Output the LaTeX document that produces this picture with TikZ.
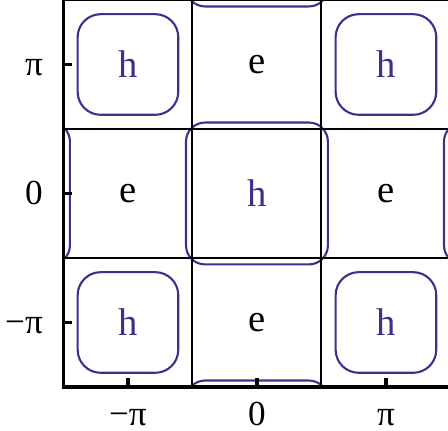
\documentclass[tikz,border=0pt]{standalone}
\usepackage{fontspec}
\setmainfont{Liberation Serif}
\definecolor{fermi}{RGB}{68,44,140}

\begin{document}
\begin{tikzpicture}[x=1.29cm,y=1.29cm,
  pocket/.style={draw=fermi,line width=0.6pt},
  gridline/.style={line width=0.55pt},
  axisline/.style={line width=0.95pt},
  ticklabel/.style={font=\fontsize{10}{12}\selectfont,inner sep=0pt},
  celllabel/.style={font=\fontsize{11}{13}\selectfont}]
\useasboundingbox (-1.992,-1.841) rectangle (1.481,1.5);
\begin{scope}
\clip (-1.5,-1.5) rectangle (1.5,1.5);
\foreach \cx/\cy in {0/0,2/0,-2/0,0/2,0/-2} {\draw[pocket,rounded corners=1.9mm] (\cx-0.55,\cy-0.55) rectangle (\cx+0.55,\cy+0.55);}
\foreach \cx/\cy in {1/1,-1/1,1/-1,-1/-1} {\draw[pocket,rounded corners=2.3mm] (\cx-0.39,\cy-0.39) rectangle (\cx+0.39,\cy+0.39);}
\end{scope}
\foreach \g in {-0.5,0.5} {\draw[gridline] (\g,-1.5) -- (\g,1.5); \draw[gridline] (-1.5,\g) -- (1.5,\g);}
\draw[gridline] (-1.5,1.5) -- (1.5,1.5);
\draw[axisline] (-1.5,1.5) -- (-1.5,-1.5) -- (1.5,-1.5);
\foreach \t/\lab [count=\i] in {-1/−π,0/0,1/π} {
  \draw[axisline] (\t,-1.5) -- (\t,-1.43);
  \node[ticklabel,anchor=base] (xl\i) at (\t,-1.795) {\lab};
  \draw[axisline] (-1.5,\t) -- (-1.43,\t);
  \node[ticklabel,anchor=base east] (yl\i) at (-1.655,\t-0.085) {\lab};
}
\foreach \cx/\cy [count=\i] in {0/0,1/1,-1/1,1/-1,-1/-1} {\node[celllabel,text=fermi] (h\i) at (\cx,\cy) {h};}
\foreach \cx/\cy [count=\i] in {0/1,0/-1,-1/0,1/0} {\node[celllabel] (e\i) at (\cx,\cy) {e};}
\end{tikzpicture}
\end{document}
